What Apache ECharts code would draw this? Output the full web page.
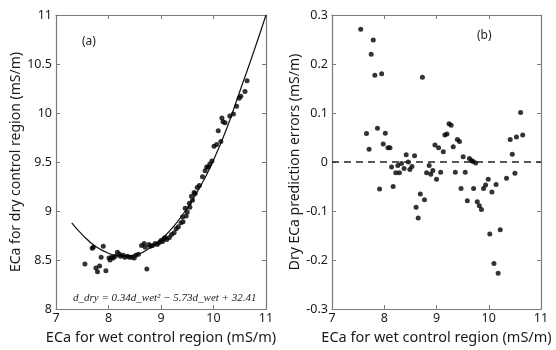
<!DOCTYPE html>
<html><head><meta charset="utf-8">
<script src="https://cdn.jsdelivr.net/npm/echarts@6/dist/echarts.min.js"></script>
<style>html,body{margin:0;padding:0;background:#fff}#c{width:556px;height:350px}</style>
</head><body><div id="c"></div>
<script>
// Panel (a): measured points (wet ECa, dry ECa)
const wetA = [7.55,7.69,7.71,7.76,7.79,7.83,7.86,7.90,7.95,8.01,8.03,8.06,8.09,8.13,8.17,8.21,8.23,8.28,8.31,8.36,8.40,8.44,8.49,8.52,8.57,8.63,8.68,8.70,8.73,8.77,8.80,8.84,8.89,8.93,8.97,
  9.00,9.03,9.06,9.08,9.11,9.16,9.20,9.25,9.29,9.33,9.38,9.42,9.41,9.46,9.48,9.50,9.55,9.54,9.58,9.60,9.63,9.65,9.69,9.73,9.79,9.84,9.87,9.90,9.93,9.97,10.01,10.06,10.09,10.14,10.16,10.18,10.22,10.31,10.38,10.44,10.49,10.52,10.60,10.64];
const dryA = [8.46,8.62,8.63,8.42,8.38,8.44,8.53,8.64,8.39,8.52,8.50,8.53,8.52,8.54,8.58,8.56,8.54,8.55,8.53,8.54,8.53,8.53,8.52,8.55,8.56,8.65,8.67,8.63,8.41,8.66,8.64,8.65,8.67,8.66,8.68,
  8.70,8.69,8.72,8.73,8.71,8.73,8.76,8.78,8.82,8.84,8.88,8.89,8.94,9.03,8.95,8.99,9.04,9.08,9.15,9.11,9.19,9.18,9.24,9.26,9.35,9.41,9.45,9.45,9.48,9.51,9.66,9.68,9.82,9.71,9.95,9.91,9.90,9.97,9.99,10.07,10.15,10.17,10.22,10.33];
// Panel (a): fitted curve
const fitWet = [7.3,7.5,7.75,8.0,8.25,8.5,8.75,9.0,9.25,9.5,9.75,10.0,10.25,10.5,10.75,11.0];
const fitDry = [8.88,8.76,8.64,8.57,8.54,8.55,8.61,8.71,8.85,9.03,9.25,9.52,9.84,10.22,10.6,11.0];
// Panel (b): prediction errors
const wetB = [7.55,7.66,7.71,7.75,7.79,7.82,7.87,7.91,7.95,7.98,8.02,8.07,8.11,8.14,8.17,8.22,8.26,8.29,8.33,8.38,8.42,8.46,8.49,8.53,8.58,8.61,8.65,8.69,8.73,8.77,8.81,8.86,8.89,8.93,8.97,9.00,9.04,9.08,9.13,9.16,9.20,9.24,9.28,9.32,9.36,9.40,9.44,9.47,9.51,9.55,9.59,9.63,9.67,9.70,9.71,9.75,9.78,9.82,9.86,9.90,9.94,9.99,10.02,10.06,10.10,10.14,10.18,10.22,10.34,10.41,10.45,10.50,10.53,10.61,10.65];
const errB = [0.271,0.058,0.026,0.220,0.249,0.177,0.069,-0.055,0.180,0.037,0.059,0.029,0.029,-0.010,-0.050,-0.022,-0.007,-0.022,-0.003,-0.013,0.015,0.000,-0.015,-0.009,0.013,-0.092,-0.114,-0.065,0.173,-0.077,-0.022,-0.007,-0.025,-0.017,0.035,-0.035,0.029,-0.021,0.021,0.055,0.057,0.078,0.075,0.031,-0.021,0.046,0.042,-0.054,0.011,-0.021,-0.079,0.007,0.003,0.001,-0.054,-0.002,-0.081,-0.089,-0.097,-0.054,-0.047,-0.035,-0.147,-0.061,-0.207,-0.046,-0.227,-0.138,-0.033,0.046,0.016,-0.023,0.051,0.101,0.055];
const xTicks = [7,8,9,10,11];
const xLabel = 'ECa for wet control region (mS/m)';
const yLabelA = 'ECa for dry control region (mS/m)';
const yLabelB = 'Dry ECa prediction errors (mS/m)';
const eqText = 'd_dry = 0.34d_wet\u00B2 \u2212 5.73d_wet + 32.41';

const zip = (a,b) => a.map((v,i)=>[v,b[i]]);
const FONT = 'Noto Sans';
const boxCol = '#7a7a7a';
function xAx(grid, pos, show) {
  return {gridIndex: grid, type:'value', min:7, max:11, interval:1, position:pos,
    axisLine:{show:true, onZero:false, lineStyle:{color:boxCol, width:1.2}},
    axisTick:{show:true, inside:true, length:4, lineStyle:{color:boxCol}},
    splitLine:{show:false},
    axisLabel:{show:show, color:'#1a1a1a', fontSize:12.5, fontFamily:FONT, margin:3},
    name: show ? xLabel : '', nameLocation:'middle', nameGap:18,
    nameTextStyle:{color:'#1a1a1a', fontSize:14.5, fontFamily:FONT}};
}
function yAx(grid, pos, show, mn, mx, iv, name, gap) {
  return {gridIndex: grid, type:'value', min:mn, max:mx, interval:iv, position:pos,
    axisLine:{show:true, onZero:false, lineStyle:{color:boxCol, width:1.2}},
    axisTick:{show:true, inside:true, length:4, lineStyle:{color:boxCol}},
    splitLine:{show:false},
    axisLabel:{show:show, color:'#1a1a1a', fontSize:12.5, fontFamily:FONT, margin:4},
    name: show ? name : '', nameLocation:'middle', nameGap:gap,
    nameTextStyle:{color:'#1a1a1a', fontSize:14, fontFamily:FONT}};
}
const chart = echarts.init(document.getElementById('c'), null, {renderer:'canvas'});
chart.setOption({
  animation:false,
  backgroundColor:'#fff',
  grid:[{left:56, top:15, width:210, height:299},{left:332, top:15, width:209, height:300}],
  xAxis:[xAx(0,'bottom',true), xAx(0,'top',false), xAx(1,'bottom',true), xAx(1,'top',false)],
  yAxis:[yAx(0,'left',true,8,11,0.5,yLabelA,30), yAx(0,'right',false,8,11,0.5,'',0),
         yAx(1,'left',true,-0.3,0.3,0.1,yLabelB,28), yAx(1,'right',false,-0.3,0.3,0.1,'',0)],
  series:[
    {type:'line', xAxisIndex:0, yAxisIndex:0, data:zip(fitWet,fitDry), smooth:true, showSymbol:false,
     lineStyle:{color:'#111', width:1.2}, z:2},
    {type:'scatter', xAxisIndex:0, yAxisIndex:0, data:zip(wetA,dryA), symbolSize:5,
     itemStyle:{color:'#000'}, z:3},
    {type:'scatter', xAxisIndex:2, yAxisIndex:2, data:zip(wetB,errB), symbolSize:5,
     itemStyle:{color:'#000'}, z:3,
     markLine:{silent:true, symbol:['none','none'], label:{show:false},
       lineStyle:{color:'#222', type:[7,5], width:1.5}, data:[{yAxis:0}]}}
  ],
  graphic:[
    {type:'text', left:82, top:36, style:{text:'(a)', fontSize:12, fontFamily:FONT, fill:'#222'}},
    {type:'text', left:477, top:30, style:{text:'(b)', fontSize:12, fontFamily:FONT, fill:'#222'}},
    {type:'text', left:73, top:293, style:{text:eqText, fontSize:11, fontStyle:'italic', fontFamily:'Liberation Serif', fill:'#222'}}
  ]
});
</script></body></html>
